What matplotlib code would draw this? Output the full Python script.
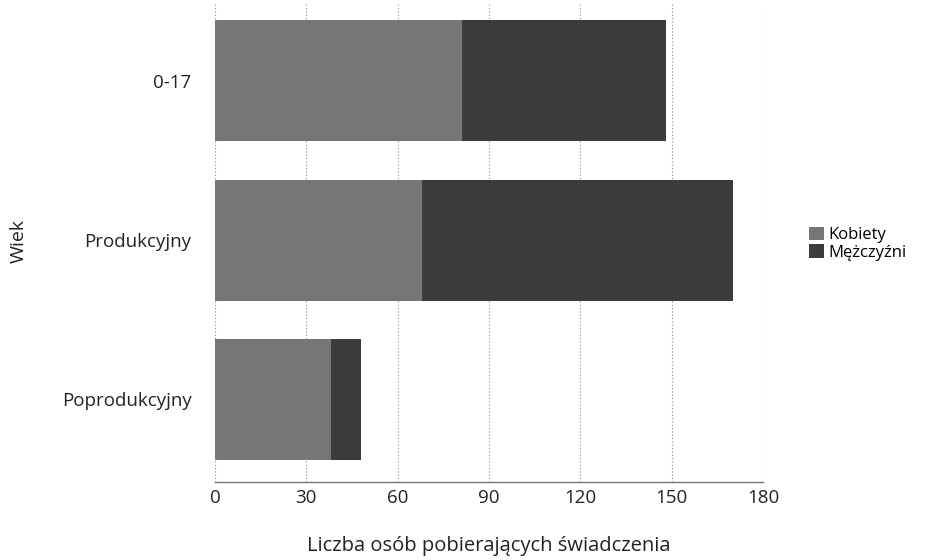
import matplotlib
matplotlib.use("Agg")
import matplotlib.pyplot as plt
from matplotlib.patches import Patch

plt.rcParams['font.family'] = ['Open Sans', 'DejaVu Sans']

categories = ["0-17", "Produkcyjny", "Poprodukcyjny"]
kobiety = [81, 68, 38]
mezczyzni = [67, 102, 10]
xticks = [0, 30, 60, 90, 120, 150, 180]
series_names = ["Kobiety", "Mężczyźni"]
colors = ["#767676", "#3c3c3c"]

fig = plt.figure(figsize=(9.37, 5.6), dpi=100)
ax = fig.add_axes([0.2295, 0.139, 0.5848, 0.856])

ypos = list(range(len(categories)))
ax.barh(ypos, kobiety, height=0.76, color=colors[0], zorder=2)
ax.barh(ypos, mezczyzni, left=kobiety, height=0.76, color=colors[1], zorder=2)

ax.set_xlim(0, 180)
ax.set_ylim(2.52, -0.49)
ax.set_xticks(xticks)
ax.set_xticklabels([str(t) for t in xticks], fontsize=13.5, color="#222222")
ax.set_yticks(ypos)
ax.set_yticklabels(categories, fontsize=13.5, color="#222222")
ax.tick_params(axis='both', length=0)
ax.tick_params(axis='y', pad=17)
ax.tick_params(axis='x', pad=5)
ax.grid(axis='x', color="#888888", linestyle=(0, (1, 2)), linewidth=0.8, zorder=0)
for s in ['top', 'right', 'left']:
    ax.spines[s].set_visible(False)
ax.spines['bottom'].set_color("#777777")
ax.spines['bottom'].set_linewidth(1.0)

ax.set_xlabel("Liczba osób pobierających świadczenia", fontsize=14.5, color="#222222", labelpad=21)
fig.text(0.02, 0.57, "Wiek", rotation=90, fontsize=14, color="#222222", ha='center', va='center')

handles = [Patch(facecolor=colors[0]), Patch(facecolor=colors[1])]
fig.legend(handles, series_names, loc='center left', bbox_to_anchor=(0.855, 0.565),
           frameon=False, fontsize=12, handlelength=0.85, handleheight=0.9,
           handletextpad=0.3, labelspacing=0.05, borderpad=0)

fig.savefig("out.png", dpi=100)
